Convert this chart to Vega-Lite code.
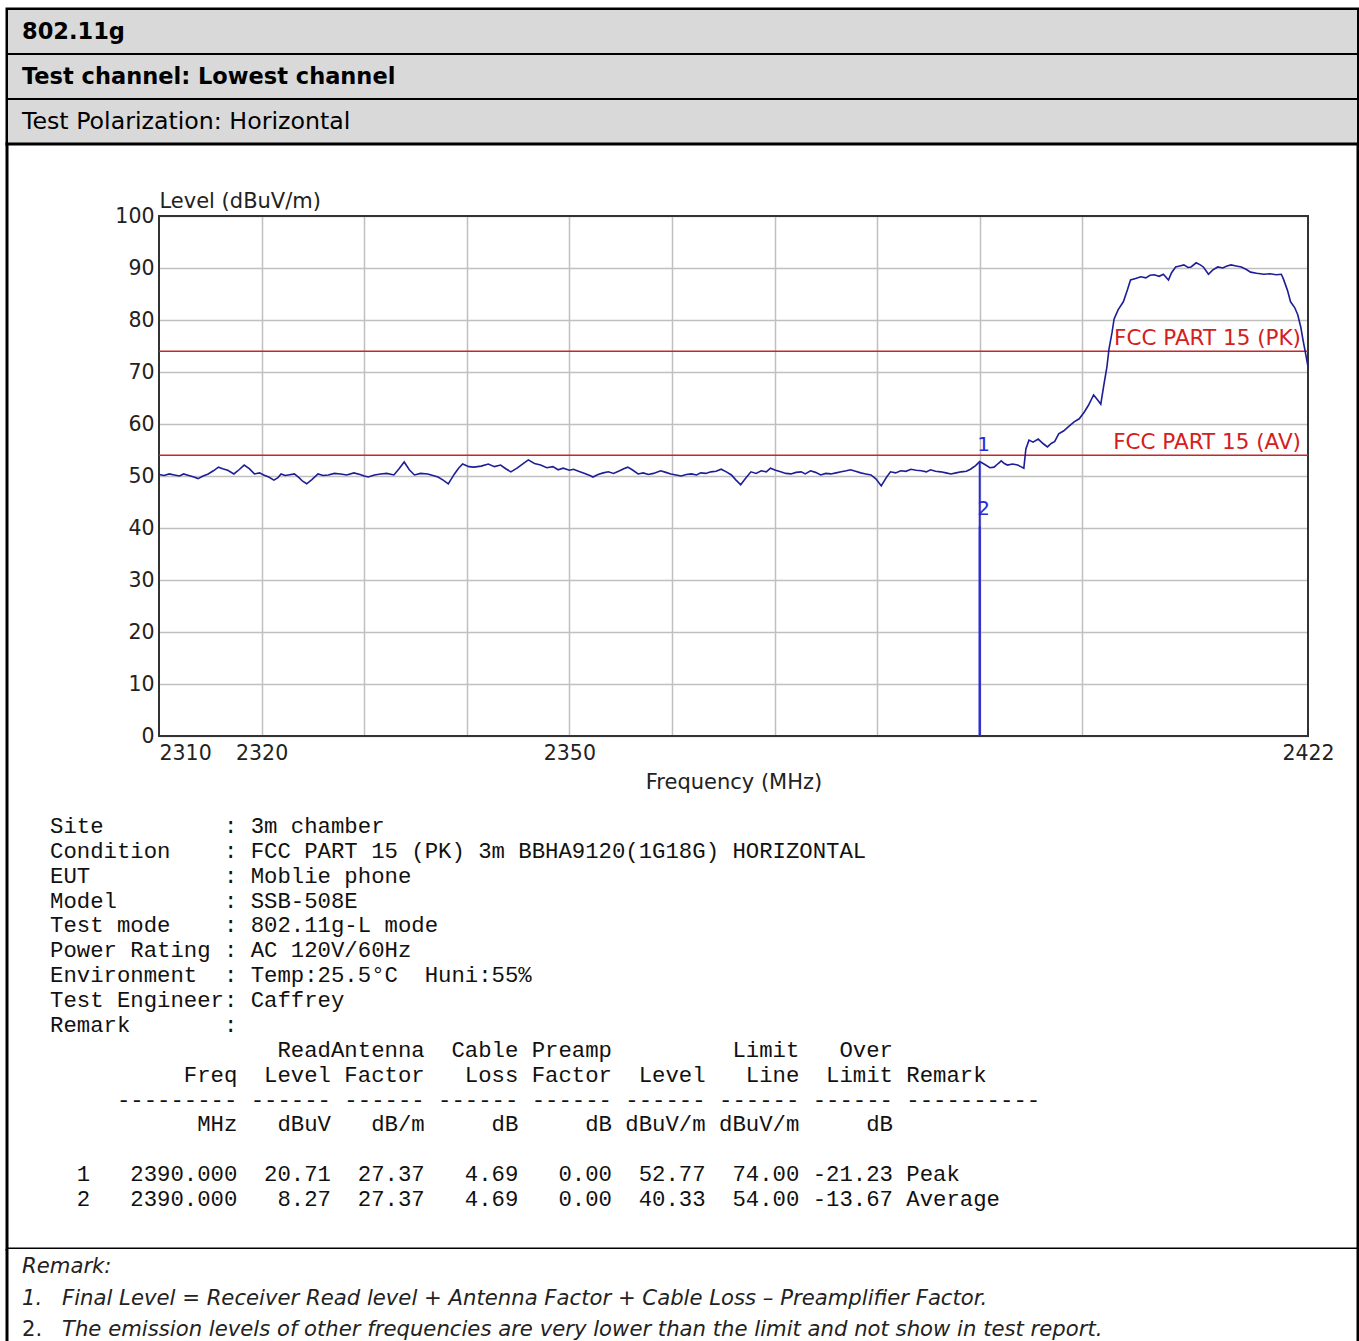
{
  "$schema": "https://vega.github.io/schema/vega-lite/v6.json",
  "padding": {"left": 4, "top": 6, "right": 1, "bottom": 0},
  "background": "white",
  "spacing": 0,
  "bounds": "flush",
  "config": {"view": {"stroke": null}},
  "vconcat": [
    {
      "width": 1351,
      "height": 135,
      "view": {"stroke": "black", "strokeWidth": 3, "fill": "#d9d9d9"},
      "data": {"values": [
        {"row": 1, "label": "802.11g"},
        {"row": 2, "label": "Test channel: Lowest channel"},
        {"row": 3, "label": "Test Polarization: Horizontal"}
      ]},
      "encoding": {
        "y": {"field": "row", "type": "ordinal", "scale": {"paddingInner": 0, "paddingOuter": 0}, "axis": null}
      },
      "layer": [
        {
          "mark": {"type": "rect", "fill": "#d9d9d9", "stroke": "black", "strokeWidth": 2}
        },
        {
          "transform": [{"filter": "datum.row <= 2"}],
          "mark": {"type": "text", "align": "left", "baseline": "middle", "dx": 15, "font": "DejaVu Sans", "fontSize": 22.5, "fontWeight": "bold", "color": "black"},
          "encoding": {
            "x": {"datum": 0, "type": "quantitative", "scale": {"domain": [0, 1]}, "axis": null},
            "text": {"field": "label"}
          }
        },
        {
          "transform": [{"filter": "datum.row == 3"}],
          "mark": {"type": "text", "align": "left", "baseline": "middle", "dx": 15, "font": "DejaVu Sans", "fontSize": 23.7, "fontWeight": "normal", "color": "black"},
          "encoding": {
            "x": {"datum": 0, "type": "quantitative", "axis": null},
            "text": {"field": "label"}
          }
        }
      ]
    },
    {
      "width": 1351,
      "height": 1105,
      "view": {"stroke": "black", "strokeWidth": 3, "fill": "white"},
      "layer": [
        {
          "layer": [
            {
              "data": {"values": [{"fstart": 2310, "fstop": 2422, "lmin": 0, "lmax": 100}]},
              "mark": {"type": "rect", "fillOpacity": 0, "stroke": "#333333", "strokeWidth": 2},
              "encoding": {
                "x": {"field": "fstart", "type": "quantitative",
                  "scale": {"domain": [2310, 2422], "range": [152, 1301], "nice": false, "zero": false},
                  "axis": {"orient": "top", "values": [2320, 2330, 2340, 2350, 2360, 2370, 2380, 2390, 2400], "grid": true, "gridColor": "#c0c0c0", "gridWidth": 1.5, "labels": false, "ticks": false, "domain": false, "title": null}},
                "x2": {"field": "fstop"},
                "y": {"field": "lmin", "type": "quantitative",
                  "scale": {"domain": [0, 100], "range": [592, 72], "nice": false, "zero": false},
                  "axis": {"orient": "left", "offset": -152, "values": [0, 10, 20, 30, 40, 50, 60, 70, 80, 90, 100], "format": "d", "grid": true, "gridColor": "#c0c0c0", "gridWidth": 1.5,
                    "domain": false, "ticks": false, "labelPadding": 5, "labelFont": "DejaVu Sans", "labelFontSize": 20.5, "labelColor": "#222222", "labelFlush": false, "labelOverlap": false,
                    "title": "Level (dBuV/m)", "titleAngle": 0, "titleAlign": "left", "titleBaseline": "alphabetic", "titleX": 0, "titleY": 63,
                    "titleFont": "DejaVu Sans", "titleFontSize": 21, "titleFontWeight": "normal", "titleColor": "#222222"}},
                "y2": {"field": "lmax"}
              }
            },
            {
              "data": {"values": [
                {"name": "FCC PART 15 (PK)", "limit": 74, "fstart": 2310, "fstop": 2422},
                {"name": "FCC PART 15 (AV)", "limit": 54, "fstart": 2310, "fstop": 2422}
              ]},
              "layer": [
                {
                  "mark": {"type": "rule", "color": "#c8262a", "strokeWidth": 1.6},
                  "encoding": {
                    "x": {"field": "fstart", "type": "quantitative", "axis": null},
                    "x2": {"field": "fstop"},
                    "y": {"field": "limit", "type": "quantitative"}
                  }
                },
                {
                  "mark": {"type": "text", "align": "right", "baseline": "alphabetic", "dx": -7, "dy": -6, "font": "DejaVu Sans", "fontSize": 21.5, "color": "#d42020"},
                  "encoding": {
                    "x": {"field": "fstop", "type": "quantitative", "axis": null},
                    "y": {"field": "limit", "type": "quantitative"},
                    "text": {"field": "name"}
                  }
                }
              ]
            },
            {
              "data": {"values": [
                {"freq": 2310.0, "level": 50.3}, {"freq": 2310.5, "level": 50.1}, {"freq": 2311.0, "level": 50.4}, {"freq": 2311.5, "level": 50.2},
                {"freq": 2312.0, "level": 50.0}, {"freq": 2312.4, "level": 50.4}, {"freq": 2312.9, "level": 50.1}, {"freq": 2313.4, "level": 49.8},
                {"freq": 2313.8, "level": 49.5}, {"freq": 2314.3, "level": 50.0}, {"freq": 2314.8, "level": 50.4}, {"freq": 2315.3, "level": 51.0},
                {"freq": 2315.8, "level": 51.7}, {"freq": 2316.2, "level": 51.4}, {"freq": 2316.7, "level": 51.1}, {"freq": 2317.3, "level": 50.4},
                {"freq": 2317.8, "level": 51.2}, {"freq": 2318.3, "level": 52.1}, {"freq": 2318.8, "level": 51.4}, {"freq": 2319.3, "level": 50.4},
                {"freq": 2319.8, "level": 50.6}, {"freq": 2320.2, "level": 50.2}, {"freq": 2320.7, "level": 49.8}, {"freq": 2321.2, "level": 49.2},
                {"freq": 2321.6, "level": 49.7}, {"freq": 2321.9, "level": 50.4}, {"freq": 2322.3, "level": 50.1}, {"freq": 2322.6, "level": 50.2},
                {"freq": 2323.2, "level": 50.4}, {"freq": 2323.7, "level": 49.6}, {"freq": 2324.0, "level": 49.0}, {"freq": 2324.4, "level": 48.5},
                {"freq": 2324.9, "level": 49.3}, {"freq": 2325.5, "level": 50.4}, {"freq": 2326.0, "level": 50.1}, {"freq": 2326.5, "level": 50.2},
                {"freq": 2327.1, "level": 50.5}, {"freq": 2327.7, "level": 50.4}, {"freq": 2328.3, "level": 50.2}, {"freq": 2329.0, "level": 50.6},
                {"freq": 2329.6, "level": 50.3}, {"freq": 2330.0, "level": 50.0}, {"freq": 2330.4, "level": 49.8}, {"freq": 2331.0, "level": 50.2},
                {"freq": 2331.6, "level": 50.4}, {"freq": 2332.2, "level": 50.5}, {"freq": 2332.9, "level": 50.2}, {"freq": 2333.4, "level": 51.4},
                {"freq": 2333.9, "level": 52.7}, {"freq": 2334.4, "level": 51.2}, {"freq": 2334.9, "level": 50.2}, {"freq": 2335.5, "level": 50.5},
                {"freq": 2336.2, "level": 50.4}, {"freq": 2336.7, "level": 50.1}, {"freq": 2337.2, "level": 49.8}, {"freq": 2337.7, "level": 49.2},
                {"freq": 2338.2, "level": 48.5}, {"freq": 2338.8, "level": 50.4}, {"freq": 2339.2, "level": 51.5}, {"freq": 2339.6, "level": 52.3},
                {"freq": 2340.2, "level": 51.8}, {"freq": 2340.7, "level": 51.7}, {"freq": 2341.4, "level": 51.9}, {"freq": 2342.1, "level": 52.3},
                {"freq": 2342.7, "level": 51.8}, {"freq": 2343.3, "level": 52.1}, {"freq": 2343.8, "level": 51.4}, {"freq": 2344.3, "level": 50.8},
                {"freq": 2344.9, "level": 51.5}, {"freq": 2345.5, "level": 52.4}, {"freq": 2346.0, "level": 53.1}, {"freq": 2346.6, "level": 52.4},
                {"freq": 2347.2, "level": 52.1}, {"freq": 2347.8, "level": 51.6}, {"freq": 2348.4, "level": 51.8}, {"freq": 2348.9, "level": 51.2},
                {"freq": 2349.4, "level": 51.5}, {"freq": 2350.0, "level": 51.1}, {"freq": 2350.4, "level": 51.3}, {"freq": 2350.9, "level": 50.9},
                {"freq": 2351.5, "level": 50.5}, {"freq": 2352.0, "level": 50.1}, {"freq": 2352.3, "level": 49.8}, {"freq": 2352.8, "level": 50.3},
                {"freq": 2353.3, "level": 50.6}, {"freq": 2353.8, "level": 50.8}, {"freq": 2354.3, "level": 50.5}, {"freq": 2354.9, "level": 51.0},
                {"freq": 2355.3, "level": 51.4}, {"freq": 2355.7, "level": 51.7}, {"freq": 2356.2, "level": 51.1}, {"freq": 2356.7, "level": 50.4},
                {"freq": 2357.2, "level": 50.6}, {"freq": 2357.7, "level": 50.3}, {"freq": 2358.2, "level": 50.5}, {"freq": 2358.9, "level": 51.0},
                {"freq": 2359.4, "level": 50.7}, {"freq": 2359.9, "level": 50.4}, {"freq": 2360.4, "level": 50.2}, {"freq": 2360.9, "level": 50.0},
                {"freq": 2361.4, "level": 50.3}, {"freq": 2361.9, "level": 50.4}, {"freq": 2362.4, "level": 50.2}, {"freq": 2362.8, "level": 50.6},
                {"freq": 2363.3, "level": 50.5}, {"freq": 2363.8, "level": 50.8}, {"freq": 2364.3, "level": 50.9}, {"freq": 2364.8, "level": 51.3},
                {"freq": 2365.3, "level": 50.8}, {"freq": 2365.8, "level": 50.2}, {"freq": 2366.2, "level": 49.3}, {"freq": 2366.7, "level": 48.3},
                {"freq": 2367.2, "level": 49.6}, {"freq": 2367.7, "level": 50.8}, {"freq": 2368.2, "level": 50.5}, {"freq": 2368.7, "level": 51.0},
                {"freq": 2369.2, "level": 50.8}, {"freq": 2369.6, "level": 51.5}, {"freq": 2370.1, "level": 51.1}, {"freq": 2370.6, "level": 50.8},
                {"freq": 2371.1, "level": 50.5}, {"freq": 2371.6, "level": 50.4}, {"freq": 2372.1, "level": 50.7}, {"freq": 2372.6, "level": 50.8},
                {"freq": 2373.0, "level": 50.4}, {"freq": 2373.5, "level": 51.0}, {"freq": 2374.0, "level": 50.7}, {"freq": 2374.5, "level": 50.2},
                {"freq": 2375.0, "level": 50.5}, {"freq": 2375.5, "level": 50.4}, {"freq": 2376.0, "level": 50.6}, {"freq": 2376.5, "level": 50.8},
                {"freq": 2377.0, "level": 51.0}, {"freq": 2377.4, "level": 51.2}, {"freq": 2377.9, "level": 50.9}, {"freq": 2378.4, "level": 50.6},
                {"freq": 2378.9, "level": 50.4}, {"freq": 2379.4, "level": 50.2}, {"freq": 2379.9, "level": 49.4}, {"freq": 2380.4, "level": 48.1},
                {"freq": 2380.9, "level": 49.7}, {"freq": 2381.3, "level": 50.8}, {"freq": 2381.8, "level": 50.6}, {"freq": 2382.3, "level": 51.0},
                {"freq": 2382.8, "level": 50.9}, {"freq": 2383.3, "level": 51.3}, {"freq": 2383.8, "level": 51.1}, {"freq": 2384.3, "level": 51.0},
                {"freq": 2384.8, "level": 50.8}, {"freq": 2385.2, "level": 51.2}, {"freq": 2385.7, "level": 50.9}, {"freq": 2386.2, "level": 50.8},
                {"freq": 2386.7, "level": 50.6}, {"freq": 2387.2, "level": 50.4}, {"freq": 2387.7, "level": 50.6}, {"freq": 2388.2, "level": 50.8},
                {"freq": 2388.7, "level": 50.9}, {"freq": 2389.1, "level": 51.3}, {"freq": 2389.6, "level": 52.0}, {"freq": 2390.0, "level": 52.77},
                {"freq": 2390.5, "level": 52.2}, {"freq": 2391.0, "level": 51.6}, {"freq": 2391.4, "level": 51.7}, {"freq": 2391.8, "level": 52.4},
                {"freq": 2392.1, "level": 52.9}, {"freq": 2392.4, "level": 52.4}, {"freq": 2392.7, "level": 52.1}, {"freq": 2393.2, "level": 52.3},
                {"freq": 2393.7, "level": 52.1}, {"freq": 2394.0, "level": 51.8}, {"freq": 2394.3, "level": 51.5}, {"freq": 2394.5, "level": 55.2},
                {"freq": 2394.8, "level": 56.9}, {"freq": 2395.2, "level": 56.5}, {"freq": 2395.7, "level": 57.1}, {"freq": 2396.2, "level": 56.2},
                {"freq": 2396.6, "level": 55.6}, {"freq": 2397.0, "level": 56.3}, {"freq": 2397.3, "level": 56.6}, {"freq": 2397.7, "level": 58.1},
                {"freq": 2398.2, "level": 58.7}, {"freq": 2398.6, "level": 59.4}, {"freq": 2399.2, "level": 60.4}, {"freq": 2399.7, "level": 61.0},
                {"freq": 2400.2, "level": 62.3}, {"freq": 2400.6, "level": 63.6}, {"freq": 2401.1, "level": 65.6}, {"freq": 2401.5, "level": 64.6},
                {"freq": 2401.8, "level": 63.8}, {"freq": 2402.1, "level": 67.5}, {"freq": 2402.4, "level": 71.0}, {"freq": 2402.6, "level": 74.4},
                {"freq": 2402.9, "level": 77.6}, {"freq": 2403.1, "level": 80.2}, {"freq": 2403.5, "level": 82.0}, {"freq": 2404.0, "level": 83.5},
                {"freq": 2404.4, "level": 85.8}, {"freq": 2404.7, "level": 87.7}, {"freq": 2405.2, "level": 88.0}, {"freq": 2405.7, "level": 88.3},
                {"freq": 2406.2, "level": 88.1}, {"freq": 2406.6, "level": 88.6}, {"freq": 2407.0, "level": 88.7}, {"freq": 2407.5, "level": 88.4},
                {"freq": 2407.9, "level": 88.8}, {"freq": 2408.4, "level": 87.7}, {"freq": 2408.7, "level": 89.1}, {"freq": 2409.1, "level": 90.2},
                {"freq": 2409.5, "level": 90.4}, {"freq": 2409.9, "level": 90.6}, {"freq": 2410.3, "level": 90.1}, {"freq": 2410.6, "level": 90.2},
                {"freq": 2411.1, "level": 91.0}, {"freq": 2411.5, "level": 90.6}, {"freq": 2411.8, "level": 90.2}, {"freq": 2412.3, "level": 88.8},
                {"freq": 2412.7, "level": 89.6}, {"freq": 2413.2, "level": 90.2}, {"freq": 2413.7, "level": 90.0}, {"freq": 2414.1, "level": 90.4},
                {"freq": 2414.5, "level": 90.6}, {"freq": 2415.0, "level": 90.4}, {"freq": 2415.5, "level": 90.2}, {"freq": 2416.0, "level": 89.7},
                {"freq": 2416.4, "level": 89.2}, {"freq": 2417.0, "level": 89.0}, {"freq": 2417.7, "level": 88.8}, {"freq": 2418.3, "level": 88.9},
                {"freq": 2418.9, "level": 88.7}, {"freq": 2419.4, "level": 88.8}, {"freq": 2419.6, "level": 87.9}, {"freq": 2420.0, "level": 85.7},
                {"freq": 2420.3, "level": 83.5}, {"freq": 2420.7, "level": 82.4}, {"freq": 2421.0, "level": 81.0}, {"freq": 2421.3, "level": 78.6},
                {"freq": 2421.5, "level": 76.3}, {"freq": 2421.8, "level": 73.2}, {"freq": 2422.0, "level": 71.0}
              ]},
              "mark": {"type": "line", "color": "#1e1e96", "strokeWidth": 1.6},
              "encoding": {
                "x": {"field": "freq", "type": "quantitative",
                  "axis": {"orient": "bottom", "offset": -513, "values": [2320, 2350, 2422], "format": "d", "grid": false, "domain": false, "ticks": false,
                    "labelPadding": 7, "labelFont": "DejaVu Sans", "labelFontSize": 20.5, "labelColor": "#222222", "labelOverlap": false, "labelFlush": false, "labelAlign": "center",
                    "title": "Frequency (MHz)", "titleFont": "DejaVu Sans", "titleFontSize": 21, "titleFontWeight": "normal", "titleColor": "#222222", "titlePadding": 8}},
                "y": {"field": "level", "type": "quantitative"}
              }
            },
            {
              "data": {"values": [
                {"marker": "1", "freq": 2390, "level": 52.77, "detector": "Peak"},
                {"marker": "2", "freq": 2390, "level": 40.33, "detector": "Average"}
              ]},
              "layer": [
                {
                  "mark": {"type": "rule", "orient": "vertical", "color": "#2b2bd6", "strokeWidth": 2},
                  "encoding": {
                    "x": {"field": "freq", "type": "quantitative",
                      "axis": {"orient": "bottom", "offset": -513, "values": [2310], "format": "d", "grid": false, "domain": false, "ticks": false,
                        "labelPadding": 7, "labelFont": "DejaVu Sans", "labelFontSize": 20.5, "labelColor": "#222222", "labelOverlap": false, "labelFlush": true, "labelAlign": "left",
                        "title": null}},
                    "y": {"field": "level", "type": "quantitative"}
                  }
                },
                {
                  "mark": {"type": "text", "align": "center", "baseline": "alphabetic", "dx": 4, "dy": -11, "font": "DejaVu Sans", "fontSize": 20, "color": "#2b2bd6"},
                  "encoding": {
                    "x": {"field": "freq", "type": "quantitative"},
                    "y": {"field": "level", "type": "quantitative"},
                    "text": {"field": "marker"}
                  }
                }
              ]
            }
          ]
        },
        {
          "data": {"values": [
            {"line": 0, "text": "Site\u00a0\u00a0\u00a0\u00a0\u00a0\u00a0\u00a0\u00a0\u00a0: 3m chamber"},
            {"line": 1, "text": "Condition\u00a0\u00a0\u00a0\u00a0: FCC PART 15 (PK) 3m BBHA9120(1G18G) HORIZONTAL"},
            {"line": 2, "text": "EUT\u00a0\u00a0\u00a0\u00a0\u00a0\u00a0\u00a0\u00a0\u00a0\u00a0: Moblie phone"},
            {"line": 3, "text": "Model\u00a0\u00a0\u00a0\u00a0\u00a0\u00a0\u00a0\u00a0: SSB-508E"},
            {"line": 4, "text": "Test mode\u00a0\u00a0\u00a0\u00a0: 802.11g-L mode"},
            {"line": 5, "text": "Power Rating : AC 120V/60Hz"},
            {"line": 6, "text": "Environment\u00a0\u00a0: Temp:25.5°C\u00a0\u00a0Huni:55%"},
            {"line": 7, "text": "Test Engineer: Caffrey"},
            {"line": 8, "text": "Remark\u00a0\u00a0\u00a0\u00a0\u00a0\u00a0\u00a0:"},
            {"line": 9, "text": "\u200b\u00a0\u00a0\u00a0\u00a0\u00a0\u00a0\u00a0\u00a0\u00a0\u00a0\u00a0\u00a0\u00a0\u00a0\u00a0\u00a0\u00a0ReadAntenna\u00a0\u00a0Cable Preamp\u00a0\u00a0\u00a0\u00a0\u00a0\u00a0\u00a0\u00a0\u00a0Limit\u00a0\u00a0\u00a0Over"},
            {"line": 10, "text": "\u200b\u00a0\u00a0\u00a0\u00a0\u00a0\u00a0\u00a0\u00a0\u00a0\u00a0Freq\u00a0\u00a0Level Factor\u00a0\u00a0\u00a0Loss Factor\u00a0\u00a0Level\u00a0\u00a0\u00a0Line\u00a0\u00a0Limit Remark"},
            {"line": 11, "text": "\u200b\u00a0\u00a0\u00a0\u00a0\u00a0--------- ------ ------ ------ ------ ------ ------ ------ ----------"},
            {"line": 12, "text": "\u200b\u00a0\u00a0\u00a0\u00a0\u00a0\u00a0\u00a0\u00a0\u00a0\u00a0\u00a0MHz\u00a0\u00a0\u00a0dBuV\u00a0\u00a0\u00a0dB/m\u00a0\u00a0\u00a0\u00a0\u00a0dB\u00a0\u00a0\u00a0\u00a0\u00a0dB dBuV/m dBuV/m\u00a0\u00a0\u00a0\u00a0\u00a0dB"},
            {"line": 14, "text": "\u200b\u00a0\u00a01\u00a0\u00a0\u00a02390.000\u00a0\u00a020.71\u00a0\u00a027.37\u00a0\u00a0\u00a04.69\u00a0\u00a0\u00a00.00\u00a0\u00a052.77\u00a0\u00a074.00 -21.23 Peak"},
            {"line": 15, "text": "\u200b\u00a0\u00a02\u00a0\u00a0\u00a02390.000\u00a0\u00a0\u00a08.27\u00a0\u00a027.37\u00a0\u00a0\u00a04.69\u00a0\u00a0\u00a00.00\u00a0\u00a040.33\u00a0\u00a054.00 -13.67 Average"}
          ]},
          "encoding": {
            "x": {"datum": 0, "type": "quantitative", "scale": {"domain": [0, 1], "range": [43, 1300]}, "axis": null},
            "y": {"field": "line", "type": "quantitative", "scale": {"domain": [0, 15], "range": [682, 1055], "nice": false, "zero": false}, "axis": null},
            "text": {"field": "text"}
          },
          "mark": {"type": "text", "align": "left", "baseline": "middle", "font": "Liberation Mono", "fontSize": 22.3, "color": "#111111"}
        }
      ],
      "resolve": {"scale": {"x": "independent", "y": "independent"}}
    },
    {
      "width": 1351,
      "height": 93,
      "view": {"stroke": null, "fill": "white"},
      "layer": [
        {
          "data": {"values": [{}]},
          "layer": [
            {
              "mark": {"type": "rule", "color": "black", "strokeWidth": 3},
              "encoding": {
                "x": {"datum": 0, "type": "quantitative", "scale": {"domain": [0, 1]}, "axis": null}
              }
            },
            {
              "mark": {"type": "rule", "color": "black", "strokeWidth": 3},
              "encoding": {
                "x": {"datum": 1, "type": "quantitative", "axis": null}
              }
            }
          ]
        },
        {
          "data": {"values": [
            {"line": 0, "col": "num", "text": "Remark:"},
            {"line": 1, "col": "num", "text": "1."},
            {"line": 1, "col": "text", "text": "Final Level = Receiver Read level + Antenna Factor + Cable Loss – Preamplifier Factor."},
            {"line": 2, "col": "num", "text": "2."},
            {"line": 2, "col": "text", "text": "The emission levels of other frequencies are very lower than the limit and not show in test report."}
          ]},
          "encoding": {
            "x": {"field": "col", "type": "nominal", "scale": {"type": "point", "domain": ["num", "text"], "range": [15, 55], "padding": 0}, "axis": null},
            "y": {"field": "line", "type": "quantitative", "scale": {"domain": [0, 2], "range": [18, 81], "nice": false, "zero": false}, "axis": null},
            "text": {"field": "text"}
          },
          "layer": [
            {
              "transform": [{"filter": "datum.text != '2.'"}],
              "mark": {"type": "text", "align": "left", "baseline": "middle", "font": "DejaVu Sans", "fontSize": 21.2, "fontStyle": "italic", "color": "#222222"}
            },
            {
              "transform": [{"filter": "datum.text == '2.'"}],
              "mark": {"type": "text", "align": "left", "baseline": "middle", "font": "DejaVu Sans", "fontSize": 21.2, "fontStyle": "normal", "color": "#222222"}
            }
          ]
        }
      ],
      "resolve": {"scale": {"x": "independent", "y": "independent"}}
    }
  ]
}
